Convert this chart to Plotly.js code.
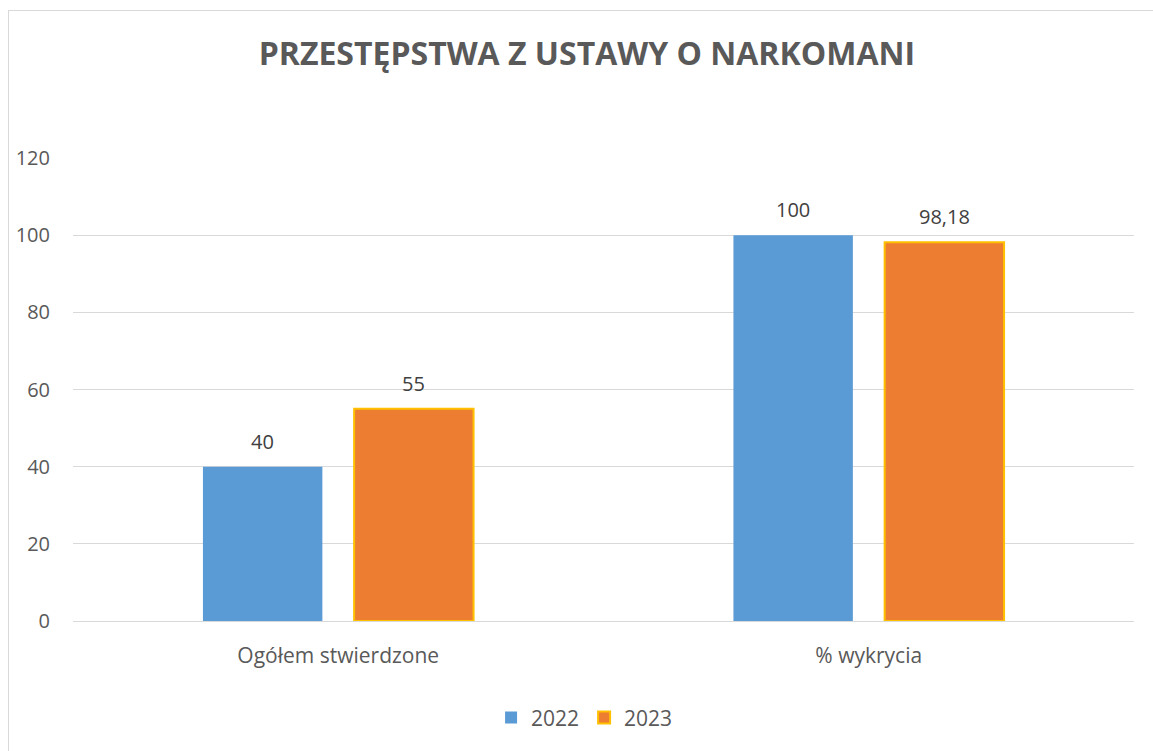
<!DOCTYPE html>
<html>
<head>
<meta charset="utf-8">
<script src="https://cdn.plot.ly/plotly-3.0.1.min.js"></script>
<style>
  html, body { margin: 0; padding: 0; background: #fff; }
  #frame { position: absolute; left: 8px; top: 10px; width: 1160px; height: 760px; border: 1px solid #D9D9D9; box-sizing: border-box; }
  #chart { position: absolute; left: 0; top: 0; width: 1153px; height: 751px; }
</style>
</head>
<body>
<div id="frame"></div>
<div id="chart"></div>
<script>
const categories = ["Ogółem stwierdzone", "% wykrycia"];
const series2022 = [40, 100];
const series2023 = [55, 98.18];
const seriesNames = ["2022", "2023"];
const yTicks = [0, 20, 40, 60, 80, 100, 120];

const fmt = v => String(v).replace('.', ',');
const font = "'Open Sans', sans-serif";
const labelSize = 20;
const catSize = 21;

const traces = [
  {
    type: 'bar', name: seriesNames[0], x: categories, y: series2022,
    marker: { color: '#5B9BD5', line: { width: 0 } }
  },
  {
    type: 'bar', name: seriesNames[1], x: categories, y: series2023,
    marker: { color: '#ED7D31', line: { width: 2, color: '#FFC000' } }
  }
];

// data labels as annotations above each bar
const slotShift = 75.5;
const annotations = [];
[series2022, series2023].forEach((vals, si) => {
  vals.forEach((v, ci) => {
    annotations.push({
      x: categories[ci], y: v, xref: 'x', yref: 'y',
      text: fmt(v), showarrow: false,
      xshift: si === 0 ? -slotShift : slotShift,
      yanchor: 'bottom', yshift: 10,
      font: { size: labelSize, color: '#404040', family: font }
    });
  });
});

const layout = {
  width: 1153, height: 751,
  margin: { l: 73, r: 19, t: 158, b: 130 },
  paper_bgcolor: 'rgba(0,0,0,0)', plot_bgcolor: 'rgba(0,0,0,0)',
  font: { family: font, color: '#595959', size: labelSize },
  title: {
    text: '<b>PRZESTĘPSTWA Z USTAWY O NARKOMANI</b>',
    font: { size: 32, color: '#595959', family: font },
    x: 0.509, xanchor: 'center', y: 0.928, yanchor: 'middle'
  },
  barmode: 'group', bargap: 0.43, bargroupgap: 0.21,
  xaxis: {
    showgrid: false, showline: false, zeroline: false, ticks: '',
    ticklabelstandoff: 20, automargin: false,
    tickfont: { size: catSize, color: '#595959' }
  },
  yaxis: {
    range: [0, 120], tickvals: yTicks, ticktext: yTicks.map(String),
    showgrid: true, gridcolor: '#D9D9D9', gridwidth: 1,
    zeroline: true, zerolinecolor: '#D9D9D9', zerolinewidth: 1,
    showline: false, ticks: '', ticklabelstandoff: 22, automargin: false,
    tickfont: { size: labelSize, color: '#595959' }
  },
  annotations: annotations,
  showlegend: true,
  legend: {
    orientation: 'h', xref: 'container', yref: 'container',
    x: 0.507, xanchor: 'center', y: 0.044, yanchor: 'middle',
    font: { size: 21, color: '#595959' }, itemwidth: 30, traceorder: 'normal'
  }
};

Plotly.newPlot('chart', traces, layout, { displayModeBar: false, staticPlot: true });
</script>
</body>
</html>
